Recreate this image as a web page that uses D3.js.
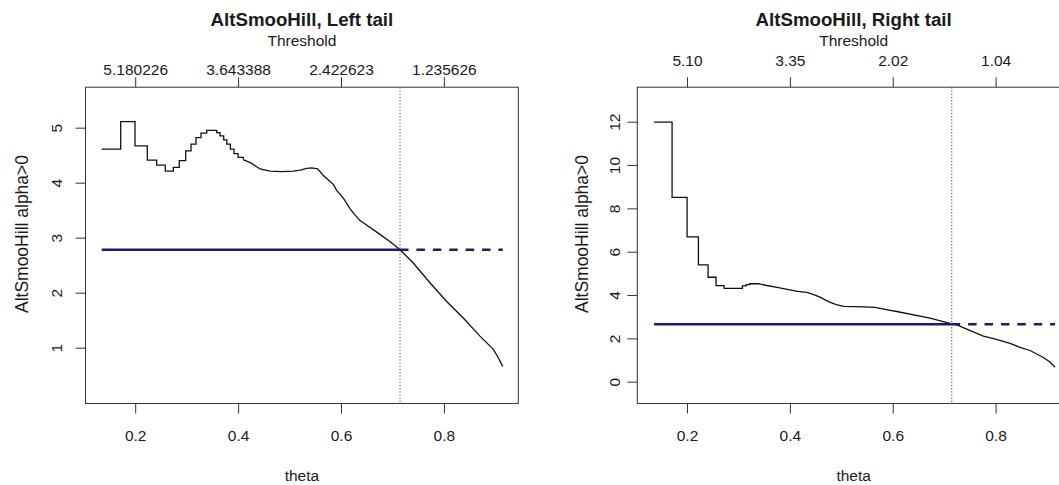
<!DOCTYPE html>
<html>
<head>
<meta charset="utf-8">
<script src="https://cdn.jsdelivr.net/npm/d3@7/dist/d3.min.js"></script>
<style>
  body { margin: 0; background: #fff; }
  text { font-family: "Liberation Sans", Arial, sans-serif; fill: #1a1a1a; }
</style>
</head>
<body>
<div id="chart"></div>
<script>
// theta ticks shared by both panels (bottom axis), threshold labels on top
const thetaTicks = [0.2, 0.4, 0.6, 0.8];
const leftThresholdLabels = ["5.180226", "3.643388", "2.422623", "1.235626"];
const rightThresholdLabels = ["5.10", "3.35", "2.02", "1.04"];

const leftYTicks = [1, 2, 3, 4, 5];
const rightYTicks = [0, 2, 4, 6, 8, 10, 12];

const thetaStar = 0.7147;
const leftAlphaHat = 2.78;
const rightAlphaHat = 2.65;

// [theta, alpha] - stepped start of the curve
const leftSteps = [
    [0.1349, 4.61], [0.1718, 5.11], [0.1996, 4.67], [0.2235, 4.41], [0.2418, 4.32],
    [0.2585, 4.21], [0.2741, 4.28], [0.2857, 4.40], [0.2982, 4.58], [0.3085, 4.70],
    [0.3182, 4.82], [0.3279, 4.90], [0.3390, 4.95], [0.3584, 4.91], [0.3648, 4.85],
    [0.3720, 4.78], [0.3780, 4.70], [0.3850, 4.61], [0.3920, 4.53], [0.4000, 4.46]
];
// [theta, alpha] - fine part of the curve
const leftSmooth = [
    [0.4100, 4.42], [0.4264, 4.35], [0.4426, 4.25], [0.4620, 4.21], [0.4850, 4.20],
    [0.5073, 4.21], [0.5205, 4.23], [0.5333, 4.26], [0.5431, 4.27], [0.5546, 4.25],
    [0.5656, 4.13], [0.5850, 3.97], [0.5916, 3.86], [0.6045, 3.72], [0.6175, 3.53],
    [0.6239, 3.45], [0.6369, 3.31], [0.6433, 3.27], [0.6758, 3.06], [0.6950, 2.93],
    [0.7147, 2.78], [0.7405, 2.54], [0.7729, 2.18], [0.8054, 1.84], [0.8377, 1.54],
    [0.8701, 1.21], [0.8960, 0.97], [0.9050, 0.83], [0.9143, 0.66]
];

const rightSteps = [
    [0.1360, 11.98], [0.1710, 8.51], [0.2002, 6.68], [0.2222, 5.39], [0.2410, 4.82],
    [0.2566, 4.43], [0.2721, 4.31], [0.3077, 4.42], [0.3150, 4.48], [0.3220, 4.52]
];
const rightSmooth = [
    [0.3400, 4.52], [0.3550, 4.44], [0.3750, 4.35], [0.4000, 4.24], [0.4150, 4.17],
    [0.4329, 4.12], [0.4450, 4.03], [0.4587, 3.90], [0.4750, 3.70], [0.4900, 3.56],
    [0.5050, 3.48], [0.5443, 3.45], [0.5656, 3.43], [0.5900, 3.32], [0.6078, 3.24],
    [0.6725, 2.93], [0.7147, 2.67], [0.7244, 2.62], [0.7761, 2.10], [0.8000, 1.97],
    [0.8280, 1.77], [0.8459, 1.60], [0.8669, 1.44], [0.8928, 1.12], [0.9050, 0.92],
    [0.9155, 0.67]
];

const width = 1059, height = 485;
const plotTop = 87.2, plotBottom = 403.5;
const fontSize = 15.5;

const svg = d3.select("#chart").append("svg")
    .attr("width", width)
    .attr("height", height)
    .style("background", "white");

function drawPanel(p) {
    const x = d3.scaleLinear().domain([0.1034, 0.9446]).range([p.left, p.right]);
    const y = d3.scaleLinear().domain(p.yDomain).range([plotBottom, plotTop]);
    const g = svg.append("g");

    // bottom axis
    const bx = g.append("g")
        .attr("transform", `translate(0,${plotBottom})`)
        .call(d3.axisBottom(x).tickValues(thetaTicks).tickSize(10).tickFormat(d3.format(".1f")));
    bx.select(".domain").remove();
    bx.selectAll("text").attr("y", 37).attr("dy", 0);

    // top axis (threshold)
    const tx = g.append("g")
        .attr("transform", `translate(0,${plotTop})`)
        .call(d3.axisTop(x).tickValues(thetaTicks).tickSize(10).tickFormat((d, i) => p.thLabels[i]));
    tx.select(".domain").remove();
    tx.selectAll("text").attr("y", -p.topLabelOff).attr("dy", 0);

    // left axis, labels parallel to the axis
    const ly = g.append("g")
        .attr("transform", `translate(${p.left},0)`)
        .call(d3.axisLeft(y).tickValues(p.yTicks).tickSize(10).tickFormat(d3.format("d")));
    ly.select(".domain").remove();
    ly.selectAll("text")
        .attr("transform", "rotate(-90)")
        .attr("x", 0).attr("y", -p.yLabelOff).attr("dy", 0)
        .attr("text-anchor", "middle");

    g.selectAll(".tick line").attr("stroke", "#333");
    g.selectAll(".tick text")
        .style("font-size", fontSize + "px")
        .style("font-family", "Liberation Sans, Arial, sans-serif")
        .attr("fill", "#1a1a1a");

    // plot box
    g.append("rect")
        .attr("x", p.left).attr("y", plotTop)
        .attr("width", p.right - p.left).attr("height", plotBottom - plotTop)
        .attr("fill", "none").attr("stroke", "#333").attr("stroke-width", 1);

    // threshold marker
    g.append("line")
        .attr("x1", x(thetaStar)).attr("x2", x(thetaStar))
        .attr("y1", plotTop).attr("y2", plotBottom)
        .attr("stroke", "#444").attr("stroke-width", 1)
        .attr("stroke-dasharray", "1.2,2");

    const steps = p.steps.concat([p.smooth[0]]);
    const stepLine = d3.line().x(d => x(d[0])).y(d => y(d[1])).curve(d3.curveStepAfter);
    const fineLine = d3.line().x(d => x(d[0])).y(d => y(d[1]));

    g.append("path").attr("d", stepLine(steps))
        .attr("fill", "none").attr("stroke", "#111").attr("stroke-width", 1.3);
    g.append("path").attr("d", fineLine(p.smooth))
        .attr("fill", "none").attr("stroke", "#111").attr("stroke-width", 1.3);

    // estimate line: solid up to threshold, dashed after
    const thMin = p.steps[0][0], thMax = p.smooth[p.smooth.length - 1][0];
    g.append("line")
        .attr("x1", x(thMin)).attr("x2", x(thetaStar))
        .attr("y1", y(p.alphaHat)).attr("y2", y(p.alphaHat))
        .attr("stroke", "#1c1c6e").attr("stroke-width", 2.5);
    g.append("line")
        .attr("x1", x(thetaStar)).attr("x2", x(thMax))
        .attr("y1", y(p.alphaHat)).attr("y2", y(p.alphaHat))
        .attr("stroke", "#1c1c6e").attr("stroke-width", 2.5)
        .attr("stroke-dasharray", "8.5,7.9");

    const cx = (p.left + p.right) / 2;
    g.append("text")
        .attr("x", cx).attr("y", 26.4)
        .attr("text-anchor", "middle")
        .style("font-size", "18.7px").style("font-weight", "bold")
        .text(p.title);
    g.append("text")
        .attr("x", cx).attr("y", 45.6)
        .attr("text-anchor", "middle")
        .style("font-size", fontSize + "px")
        .text("Threshold");
    g.append("text")
        .attr("x", cx).attr("y", 481)
        .attr("text-anchor", "middle")
        .style("font-size", fontSize + "px")
        .text("theta");
    g.append("text")
        .attr("transform", `translate(${p.yTitleX},234) rotate(-90)`)
        .attr("text-anchor", "middle")
        .style("font-size", "17.5px")
        .text("AltSmooHill alpha>0");
}

drawPanel({
    title: "AltSmooHill, Left tail",
    left: 85.5, right: 518.3,
    yDomain: [-0.015, 5.736],
    yTicks: leftYTicks,
    thLabels: leftThresholdLabels,
    steps: leftSteps, smooth: leftSmooth,
    alphaHat: leftAlphaHat,
    topLabelOff: 12.2, yLabelOff: 24, yTitleX: 28
});

drawPanel({
    title: "AltSmooHill, Right tail",
    left: 637.3, right: 1070,
    yDomain: [-1.006, 13.592],
    yTicks: rightYTicks,
    thLabels: rightThresholdLabels,
    steps: rightSteps, smooth: rightSmooth,
    alphaHat: rightAlphaHat,
    topLabelOff: 21, yLabelOff: 17, yTitleX: 588
});
</script>
</body>
</html>
